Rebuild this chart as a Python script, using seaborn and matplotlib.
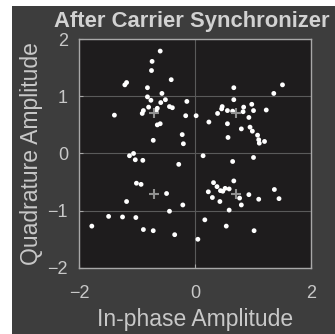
import numpy as np
import pandas as pd
import seaborn as sns
import matplotlib.pyplot as plt
from matplotlib.patches import Rectangle

# received symbols after carrier sync
i_vals = [-0.60, -0.74, -0.75, -0.41, -1.18, -1.21, -0.82, -0.57, -0.82, -0.76,
          -0.51, -0.59, -0.14, -0.80, -0.44, -0.39, -0.65, -0.89, -0.91, -0.67,
          -1.39, -0.16, 0.02, -0.60, -0.65, -0.22, -0.72, -0.20,
          -1.13, -1.06, -1.03, -0.90, -0.28, -1.01, -0.93, -0.49, -1.18, -0.21,
          -0.44, -1.49, -1.25, -1.02, -1.78, -0.89, -0.72, -0.35, 0.05,
          0.67, 1.51, 1.36, 0.67, 0.47, 0.46, 0.56, 0.65, 0.84, 0.98,
          1.01, 0.83, 1.23, 0.39, 0.93, 0.24, 0.56, 0.80, 0.95, 0.99,
          0.57, 1.08, 1.10, 1.20, 1.11,
          0.14, 0.65, 1.01, 0.32, 0.38, 0.67, 0.23, 0.44, 0.52, 0.59,
          0.48, 0.77, 0.93, 0.30, 0.43, 1.37, 1.10, 1.45, 0.80, 0.59,
          0.17, 0.54, 1.02]
q_vals = [1.79, 1.61, 1.45, 1.29, 1.24, 1.20, 1.15, 1.05, 0.99, 0.93,
          0.94, 0.89, 0.91, 0.81, 0.82, 0.80, 0.79, 0.75, 0.70, 0.74,
          0.67, 0.66, 0.66, 0.52, 0.50, 0.33, 0.23, 0.17,
          -0.04, 0.00, -0.11, -0.12, -0.19, -0.52, -0.54, -0.70, -0.84, -0.90,
          -1.01, -1.10, -1.11, -1.12, -1.27, -1.33, -1.35, -1.42, -1.50,
          1.15, 1.20, 1.05, 0.94, 0.82, 0.78, 0.75, 0.74, 0.81, 0.86,
          0.75, 0.73, 0.76, 0.70, 0.63, 0.55, 0.52, 0.43, 0.46, 0.39,
          0.28, 0.32, 0.24, 0.21, 0.18,
          -0.04, -0.14, -0.07, -0.51, -0.58, -0.48, -0.67, -0.65, -0.61, -0.62,
          -0.66, -0.78, -0.72, -0.77, -0.84, -0.63, -0.80, -0.79, -0.90, -0.99,
          -1.16, -1.27, -1.35]

# ideal QPSK constellation
ref_i = [0.707, 0.707, -0.707, -0.707]
ref_q = [0.707, -0.707, 0.707, -0.707]

df = pd.DataFrame({"I": i_vals, "Q": q_vals})
ref = pd.DataFrame({"I": ref_i, "Q": ref_q})

sns.set_style("dark")
plt.rcParams['font.family'] = ['Liberation Sans', 'DejaVu Sans']

txt = '#c8c8c8'
fig = plt.figure(figsize=(3.35, 3.34), dpi=100)
fig.patch.set_facecolor('white')
fig.patches.append(Rectangle((12 / 335, 0), 1, 1 - 6 / 334, transform=fig.transFigure,
                             facecolor='#3d3d3d', edgecolor='none', zorder=-5))
ax = fig.add_axes([0.236, 0.198, 0.692, 0.685])
ax.set_facecolor('#1e1c1d')

sns.scatterplot(data=df, x="I", y="Q", ax=ax, color='white', s=12,
                edgecolor='none', zorder=3)
sns.scatterplot(data=ref, x="I", y="Q", ax=ax, color='#909090', marker='+',
                s=45, linewidth=1.5, zorder=4)

ax.set_xlim(-2, 2)
ax.set_ylim(-2, 2)
ax.set_xticks([-2, 0, 2])
ax.set_yticks([-2, -1, 0, 1, 2])
ax.grid(True, color='#5a5a5a', linewidth=0.8)
for s in ax.spines.values():
    s.set_color('#a8a8a8')
    s.set_linewidth(1.0)
ax.tick_params(colors='#a8a8a8', labelcolor=txt, labelsize=13, direction='in',
               length=3, left=True, bottom=True)
ax.tick_params(axis='x', pad=12)
ax.tick_params(axis='y', pad=8)

ax.set_xlabel("In-phase Amplitude", color=txt, fontsize=16.5, labelpad=5)
ax.set_ylabel("Quadrature Amplitude", color=txt, fontsize=16.5, labelpad=3)
fig.text(0.572, 0.937, "After Carrier Synchronizer", color='#d2d2d2', fontsize=15.8,
         fontweight='bold', ha='center', va='center')

fig.savefig("out.png", dpi=100, facecolor=fig.get_facecolor())
